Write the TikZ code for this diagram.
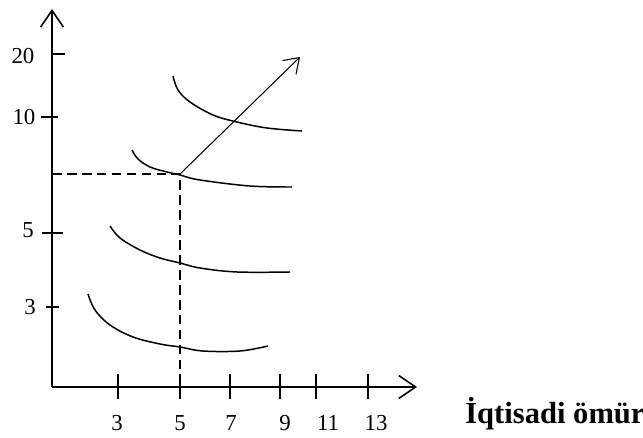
\documentclass[tikz,border=0pt]{standalone}
\usepackage{fontspec}
\setmainfont{Liberation Serif}
\usetikzlibrary{arrows.meta}

\begin{document}
\begin{tikzpicture}[x=0.02cm, y=-0.02cm, every node/.style={font=\fontsize{13}{15}\selectfont, inner sep=0pt},
		axis/.style={line width=1.1pt, -{Straight Barb[length=9.5pt, width=13pt, line width=0.9pt]}},
		tick/.style={line width=1pt},
		curve/.style={line width=0.85pt, smooth, tension=0.6},
		guide/.style={line width=0.8pt, dash pattern=on 5.5pt off 3pt}]
	\useasboundingbox (0,0) rectangle (643,438);
	\coordinate (origin) at (52,387);
	\coordinate (ytop) at (52,9);
	\coordinate (xend) at (417,387);
	\coordinate (opt) at (180,174);
	\coordinate (opty) at (52,174);
	\coordinate (optx) at (180,387);
	\coordinate (grow) at (300,57);
	\draw[axis] (origin) -- (ytop);
	\draw[axis] (origin) -- (xend);
	\foreach \val/\y/\a/\b/\lx/\ly in {20/54/52/65/23/56, 10/117/41/58/24/117, 5/233/42/63/28/230, 3/307/46/59/30/307} {
		\draw[tick] (\a,\y) -- (\b,\y);
		\node (y\val) at (\lx,\ly) {\val};
	}
	\foreach \val/\x/\lx in {3/118/117, 5/180/180, 7/230/231, 9/280/285, 11/316/328, 13/368/376} {
		\draw[tick] (\x,374) -- (\x,399);
		\node (x\val) at (\lx,423) {\val};
	}
	\node[anchor=base west, font=\fontsize{17.4}{19}\selectfont\bfseries] (xlabel) at (465,424) {İqtisadi ömür};
	\draw[guide] (opty) -- (opt) -- (optx);
	\draw[curve] plot coordinates {(88,294) (95,310) (110,325) (133,337) (160,344) (180,347) (203,351) (240,351) (268,346)};
	\draw[curve] plot coordinates {(110,226) (120,238) (140,250) (160,258) (180,263) (200,268) (237,272) (290,272)};
	\draw[curve] plot coordinates {(132,150) (138,159) (150,167) (167,172) (180,175) (200,180) (250,186) (292,187)};
	\draw[curve] plot coordinates {(173,76) (178,90) (190,102) (213,115) (237,122) (267,128) (302,131)};
	\draw[line width=0.6pt, -{Straight Barb[length=8pt, width=11pt, line width=0.6pt]}] (opt) -- (grow);
\end{tikzpicture}
\end{document}
